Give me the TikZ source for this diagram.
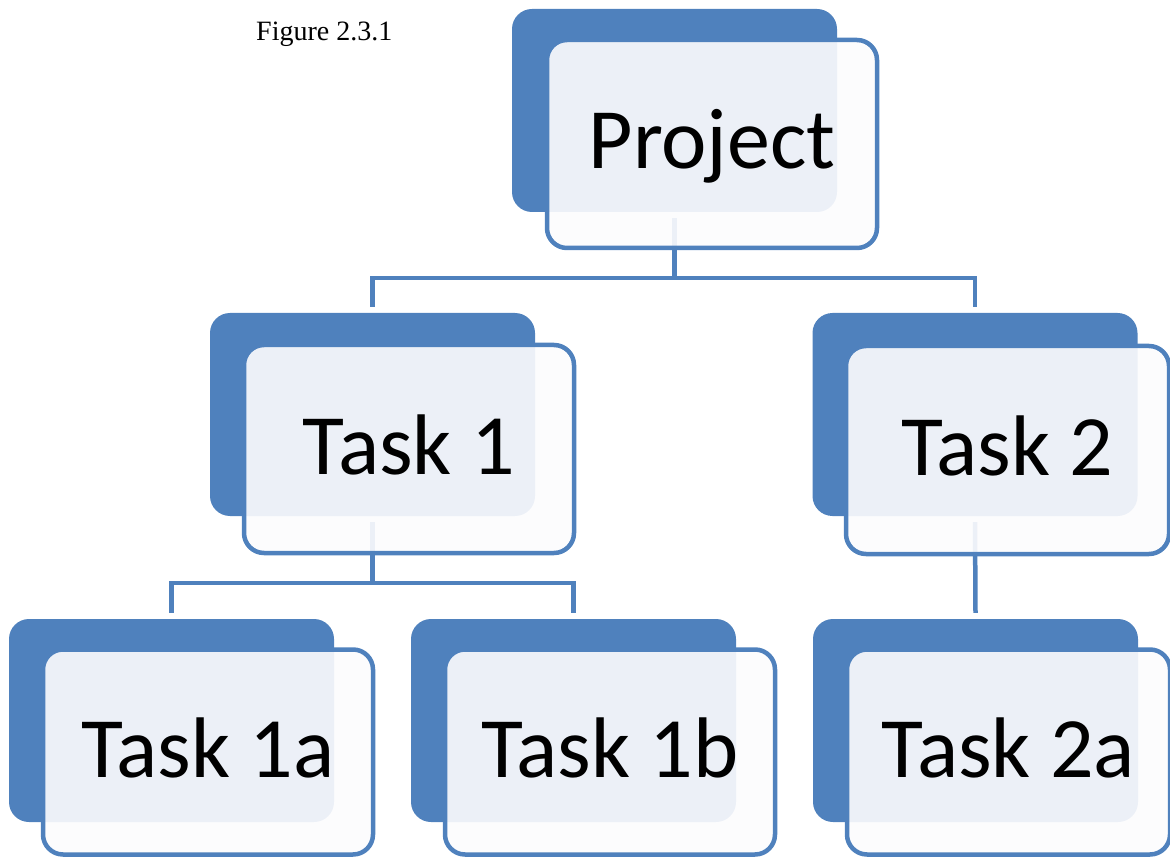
\documentclass[tikz,border=0pt]{standalone}
\usepackage{fontspec}
\setmainfont{Liberation Serif}
\newfontfamily\boxfont{Carlito}
\definecolor{acc}{HTML}{4F81BD}
\definecolor{frontfill}{HTML}{FCFCFD}
\begin{document}
\begin{tikzpicture}[x=1pt,y=-1pt,
  backbox/.style={rectangle, rounded corners=20pt, fill=acc, minimum width=325pt, minimum height=203pt, inner sep=0pt},
  frontbox/.style={rectangle, rounded corners=20pt, draw=acc, line width=4.5pt, fill=frontfill, fill opacity=0.91, text opacity=1, minimum width=330pt, minimum height=208pt, inner sep=0pt, font=\boxfont\fontsize{86}{90}\selectfont, text height=50pt, text depth=0pt},
  conn/.style={draw=acc, line width=4.5pt}]
\useasboundingbox (0,0) rectangle (1170,858);
\clip (0,0) rectangle (1170,858);
% back boxes
\node[backbox] (pB)   at (674.5,110.5) {};
\node[backbox] (t1B)  at (372.5,414.5) {};
\node[backbox] (t2B)  at (975,414.5) {};
\node[backbox] (t1aB) at (171.5,720.5) {};
\node[backbox] (t1bB) at (573.5,720.5) {};
\node[backbox] (t2aB) at (975.5,720.5) {};
% connectors
\draw[conn] ([yshift=-6pt]pB.south) |- ([yshift=35pt]t1B.north) -- ([yshift=6pt]t1B.north);
\draw[conn] ([yshift=-6pt]pB.south) |- ([yshift=35pt]t2B.north) -- ([yshift=6pt]t2B.north);
\draw[conn] ([yshift=-6pt]t1B.south) |- ([yshift=36pt]t1aB.north) -- ([yshift=6pt]t1aB.north);
\draw[conn] ([yshift=-6pt]t1B.south) |- ([yshift=36pt]t1bB.north) -- ([yshift=6pt]t1bB.north);
\draw[conn] ([yshift=-6pt]t2B.south) -- ([yshift=6pt]t2aB.north);
% front boxes
\node[frontbox] (pF)   at (712,144) {Project};
\node[frontbox] (t1F)  at (409,449) {Task 1};
\node[frontbox, minimum width=323pt] (t2F)  at (1007.5,450) {Task 2};
\node[frontbox, minimum height=205pt] (t1aF) at (208,752) {Task 1a};
\node[frontbox, minimum height=205pt] (t1bF) at (610,752) {Task 1b};
\node[frontbox, minimum width=323pt, minimum height=205pt] (t2aF) at (1008.5,752) {Task 2a};
% caption
\node[anchor=base west, inner sep=0pt, font=\fontsize{28}{32}\selectfont] (cap) at (256,41) {Figure 2.3.1};
\end{tikzpicture}
\end{document}
